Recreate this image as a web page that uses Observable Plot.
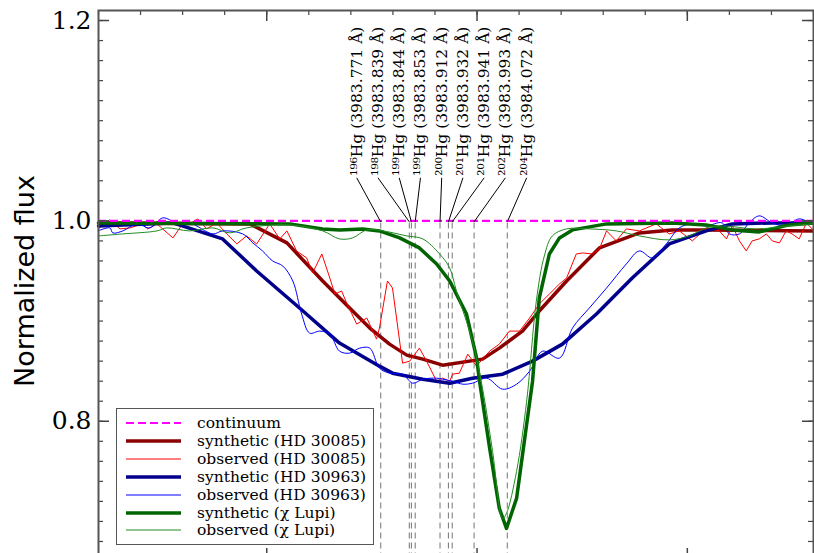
<!DOCTYPE html>
<html><head><meta charset="utf-8">
<script src="https://cdn.jsdelivr.net/npm/d3@7"></script>
<script src="https://cdn.jsdelivr.net/npm/@observablehq/plot@0.6"></script>
<style>
html,body{margin:0;padding:0;overflow:hidden;background:#fff;}
#wrap{position:relative;width:814px;height:553px;overflow:hidden;}
#legend{position:absolute;left:116px;top:408px;width:258px;height:137px;border:1.5px solid #555;background:#fff;box-sizing:border-box;font-family:"DejaVu Serif";font-size:15.5px;color:#000;}
.row{position:absolute;left:0;height:18px;width:100%;}
.row svg{position:absolute;left:8px;top:0;}
.row span{position:absolute;left:80px;top:0;line-height:18px;white-space:nowrap;}
</style></head><body>
<div id="wrap"><div id="chart"></div><div id="legend"></div></div>
<script>
// ---------- data ----------
const synth30085Wl = [3983.100, 3983.460, 3983.548, 3983.633, 3983.697, 3983.745, 3983.792, 3983.833, 3983.871, 3983.918, 3984.013, 3984.053, 3984.108, 3984.148, 3984.213, 3984.291, 3984.386, 3984.464, 3984.545, 3984.800];
const synth30085Flux = [0.998, 0.997, 0.978, 0.940, 0.913, 0.893, 0.877, 0.866, 0.862, 0.856, 0.862, 0.873, 0.890, 0.910, 0.940, 0.973, 0.988, 0.991, 0.991, 0.990];

const obs30085Wl = [3983.099, 3983.127, 3983.151, 3983.175, 3983.203, 3983.217, 3983.239, 3983.277, 3983.300, 3983.317, 3983.336, 3983.357, 3983.381, 3983.405, 3983.429, 3983.452, 3983.476, 3983.507, 3983.531, 3983.548, 3983.571, 3983.595, 3983.609, 3983.631, 3983.650, 3983.662, 3983.678, 3983.690, 3983.714, 3983.738, 3983.761, 3983.768, 3983.787, 3983.799, 3983.823, 3983.840, 3983.863, 3983.880, 3983.904, 3983.918, 3983.935, 3983.942, 3983.958, 3983.978, 3983.999, 3984.013, 3984.030, 3984.053, 3984.077, 3984.101, 3984.125, 3984.148, 3984.172, 3984.196, 3984.213, 3984.236, 3984.251, 3984.274, 3984.291, 3984.308, 3984.331, 3984.355, 3984.386, 3984.426, 3984.457, 3984.481, 3984.512, 3984.545, 3984.576, 3984.593, 3984.607, 3984.624, 3984.640, 3984.654, 3984.671, 3984.688, 3984.702, 3984.719, 3984.735, 3984.749, 3984.766, 3984.783, 3984.797];
const obs30085Flux = [0.992, 1.001, 0.992, 0.993, 0.997, 0.992, 0.997, 0.983, 0.997, 0.997, 1.002, 0.992, 0.998, 0.987, 0.977, 0.985, 0.977, 0.997, 0.982, 0.990, 0.970, 0.963, 0.948, 0.967, 0.943, 0.927, 0.930, 0.918, 0.897, 0.903, 0.882, 0.893, 0.940, 0.933, 0.858, 0.860, 0.873, 0.860, 0.840, 0.843, 0.840, 0.847, 0.848, 0.867, 0.855, 0.862, 0.870, 0.877, 0.890, 0.890, 0.903, 0.917, 0.927, 0.937, 0.943, 0.967, 0.968, 0.967, 0.972, 0.990, 0.980, 0.992, 0.990, 0.997, 0.987, 0.990, 0.980, 0.993, 0.990, 0.982, 0.995, 0.980, 0.970, 0.980, 0.982, 0.987, 0.980, 0.978, 0.990, 0.987, 0.982, 0.998, 0.992];

const synth30963Wl = [3983.100, 3983.277, 3983.395, 3983.476, 3983.578, 3983.673, 3983.768, 3983.799, 3983.871, 3983.935, 3983.989, 3984.061, 3984.132, 3984.203, 3984.284, 3984.369, 3984.457, 3984.545, 3984.607, 3984.702, 3984.800];
const synth30963Flux = [0.995, 0.998, 0.982, 0.950, 0.913, 0.878, 0.855, 0.848, 0.842, 0.838, 0.843, 0.847, 0.860, 0.877, 0.907, 0.943, 0.977, 0.990, 0.997, 0.998, 0.998];

const obs30963Wl = [3983.099, 3983.127, 3983.134, 3983.158, 3983.191, 3983.222, 3983.253, 3983.286, 3983.317, 3983.372, 3983.395, 3983.443, 3983.467, 3983.490, 3983.514, 3983.538, 3983.562, 3983.583, 3983.602, 3983.626, 3983.650, 3983.673, 3983.697, 3983.721, 3983.745, 3983.768, 3983.792, 3983.823, 3983.847, 3983.871, 3983.904, 3983.918, 3983.942, 3983.966, 3983.989, 3984.023, 3984.061, 3984.094, 3984.125, 3984.156, 3984.196, 3984.227, 3984.267, 3984.308, 3984.355, 3984.386, 3984.417, 3984.450, 3984.481, 3984.512, 3984.545, 3984.583, 3984.600, 3984.624, 3984.647, 3984.671, 3984.702, 3984.735, 3984.766, 3984.797];
const obs30963Flux = [0.990, 0.993, 0.988, 0.990, 0.997, 0.993, 1.003, 0.998, 0.998, 0.987, 0.990, 0.987, 0.978, 0.970, 0.960, 0.955, 0.940, 0.907, 0.888, 0.890, 0.887, 0.870, 0.868, 0.873, 0.873, 0.853, 0.848, 0.847, 0.838, 0.842, 0.843, 0.842, 0.840, 0.837, 0.838, 0.843, 0.832, 0.837, 0.850, 0.870, 0.863, 0.893, 0.913, 0.933, 0.957, 0.970, 0.963, 0.977, 0.993, 0.997, 0.995, 0.998, 0.987, 0.987, 0.998, 1.005, 0.998, 0.995, 1.002, 0.997];

const synthChiWl = [3983.100, 3983.555, 3983.633, 3983.673, 3983.728, 3983.768, 3983.816, 3983.863, 3983.904, 3983.935, 3983.975, 3983.999, 3984.006, 3984.030, 3984.053, 3984.070, 3984.094, 3984.118, 3984.132, 3984.148, 3984.172, 3984.196, 3984.227, 3984.308, 3984.464, 3984.545, 3984.607, 3984.671, 3984.742, 3984.800];
const synthChiFlux = [0.998, 0.997, 0.992, 0.991, 0.992, 0.990, 0.983, 0.973, 0.957, 0.940, 0.907, 0.863, 0.840, 0.773, 0.713, 0.693, 0.723, 0.797, 0.840, 0.923, 0.967, 0.983, 0.991, 0.997, 0.998, 0.996, 0.991, 0.989, 0.996, 0.998];

const obsChiWl = [3983.099, 3983.158, 3983.239, 3983.262, 3983.317, 3983.372, 3983.412, 3983.452, 3983.555, 3983.633, 3983.673, 3983.704, 3983.738, 3983.776, 3983.833, 3983.871, 3983.911, 3983.935, 3983.951, 3983.989, 3984.013, 3984.037, 3984.061, 3984.070, 3984.094, 3984.118, 3984.141, 3984.160, 3984.179, 3984.213, 3984.267, 3984.331, 3984.386, 3984.457, 3984.505, 3984.545, 3984.583, 3984.664, 3984.742, 3984.797];
const obsChiFlux = [0.985, 0.987, 0.990, 0.993, 0.990, 0.993, 0.988, 0.993, 0.996, 0.990, 0.982, 0.983, 0.991, 0.990, 0.985, 0.982, 0.967, 0.953, 0.930, 0.880, 0.833, 0.770, 0.703, 0.708, 0.750, 0.820, 0.920, 0.965, 0.985, 0.992, 0.992, 0.990, 0.985, 0.981, 0.985, 0.993, 0.995, 0.992, 0.995, 0.997];

const hgWavelengths = [3983.771, 3983.839, 3983.844, 3983.853, 3983.912, 3983.932, 3983.941, 3983.993, 3984.072];
const hgIsotopes = [196, 198, 199, 199, 200, 201, 201, 202, 204];

const yMajorTicks = [0.8, 1.0, 1.2];
const xMajorTicks = [3983.5, 3984.0, 3984.5];

// ---------- layout ----------
const W = 814, H = 600, mL = 98, mR = 1, mT = 10, mB = 41;
const xDomain = [3983.1, 3984.8];
const yDomain = [0.662, 1.21];
const plotW = W - mL - mR, plotH = H - mT - mB;
const labelStart = 3983.714, labelStep = 0.0505;

const supMap = {"0":"⁰","1":"¹","2":"²","3":"³","4":"⁴","5":"⁵","6":"⁶","7":"⁷","8":"⁸","9":"⁹"};
const sup = n => String(n).split("").map(c => supMap[c]).join("");

const toRows = (wl, fl) => wl.map((w, i) => ({w, f: fl[i]}));
const hg = hgWavelengths.map((w, i) => ({w, iso: hgIsotopes[i], lx: labelStart + i * labelStep}));

const xMinorTicks = d3.range(31, 49).map(k => 3980 + k / 10);
const yMinorTicks = d3.range(34, 61).map(k => k / 50);

const series = [
  {name: "synthetic (HD 30085)", rows: toRows(synth30085Wl, synth30085Flux), color: "#8b0000", w: 3.5, curve: "linear"},
  {name: "observed (HD 30085)", rows: toRows(obs30085Wl, obs30085Flux), color: "#ff0000", w: 1, curve: "linear"},
  {name: "synthetic (HD 30963)", rows: toRows(synth30963Wl, synth30963Flux), color: "#00008b", w: 3.5, curve: "linear"},
  {name: "observed (HD 30963)", rows: toRows(obs30963Wl, obs30963Flux), color: "#0000ff", w: 1, curve: "catmull-rom"},
  {name: "synthetic (χ Lupi)", rows: toRows(synthChiWl, synthChiFlux), color: "#006400", w: 3.5, curve: "linear"},
  {name: "observed (χ Lupi)", rows: toRows(obsChiWl, obsChiFlux), color: "#228b22", w: 1, curve: "catmull-rom"}
];

const tickColor = "#444";
const chart = Plot.plot({
  width: W, height: H,
  marginLeft: mL, marginRight: mR, marginTop: mT, marginBottom: mB,
  style: {fontFamily: "DejaVu Serif", background: "white", overflow: "visible"},
  x: {domain: xDomain, axis: null},
  y: {domain: yDomain, axis: null},
  marks: [
    Plot.ruleX(hg, {x: "w", y1: 0.998, y2: yDomain[0], stroke: "#808080", strokeWidth: 1.1, strokeDasharray: "6,4"}),
    ...series.map(s => Plot.line(s.rows, {x: "w", y: "f", stroke: s.color, strokeWidth: s.w, curve: s.curve})),
    Plot.ruleY([1.0], {stroke: "#ff00ff", strokeWidth: 2.2, strokeDasharray: "8,4"}),
    Plot.link(hg, {x1: "lx", y1: () => 1.043, x2: "w", y2: () => 0.999, stroke: "black", strokeWidth: 1}),
    Plot.text(hg, {x: "lx", y: () => 1.045, text: d => `${sup(d.iso)}Hg (${d.w.toFixed(3)} Å)`, rotate: -90, textAnchor: "start", lineAnchor: "middle", fontSize: 15.5, fontFamily: "DejaVu Serif", fill: "black"}),
    Plot.ruleY(yMinorTicks, {stroke: tickColor, strokeWidth: 1.2, insetRight: plotW - 5}),
    Plot.ruleY(yMinorTicks, {stroke: tickColor, strokeWidth: 1.2, insetLeft: plotW - 5}),
    Plot.ruleY(yMajorTicks, {stroke: tickColor, strokeWidth: 1.5, insetRight: plotW - 11}),
    Plot.ruleY(yMajorTicks, {stroke: tickColor, strokeWidth: 1.5, insetLeft: plotW - 11}),
    Plot.ruleX(xMinorTicks, {stroke: tickColor, strokeWidth: 1.2, insetBottom: plotH - 5}),
    Plot.ruleX(xMinorTicks, {stroke: tickColor, strokeWidth: 1.2, insetTop: plotH - 5}),
    Plot.ruleX(xMajorTicks, {stroke: tickColor, strokeWidth: 1.5, insetBottom: plotH - 11}),
    Plot.ruleX(xMajorTicks, {stroke: tickColor, strokeWidth: 1.5, insetTop: plotH - 11}),
    Plot.frame({stroke: "#555", strokeWidth: 2}),
    Plot.axisY(yMajorTicks, {anchor: "left", tickSize: 0, tickPadding: 7, tickFormat: d => d.toFixed(1), fontSize: 25, fontFamily: "DejaVu Serif", label: null}),
    Plot.text(["Normalized flux"], {frameAnchor: "left", textAnchor: "middle", lineAnchor: "middle", rotate: -90, dx: -73, dy: -4, fontSize: 27, fontFamily: "DejaVu Sans", fill: "black"})
  ]
});
document.getElementById("chart").appendChild(chart);

// legend
const legendItems = [
  {name: "continuum", color: "#ff00ff", w: 2.2, dash: "8,4"},
  ...series.map(s => ({name: s.name, color: s.color, w: s.w, dash: null}))
];
const leg = document.getElementById("legend");
legendItems.forEach((it, i) => {
  const row = document.createElement("div");
  row.className = "row";
  row.style.top = (5 + i * 17.9) + "px";
  row.innerHTML = `<svg width="58" height="18"><line x1="1" x2="56" y1="9" y2="9" stroke="${it.color}" stroke-width="${it.w}" ${it.dash ? `stroke-dasharray="${it.dash}"` : ""}/></svg><span>${it.name}</span>`;
  leg.appendChild(row);
});
</script>
</body></html>
